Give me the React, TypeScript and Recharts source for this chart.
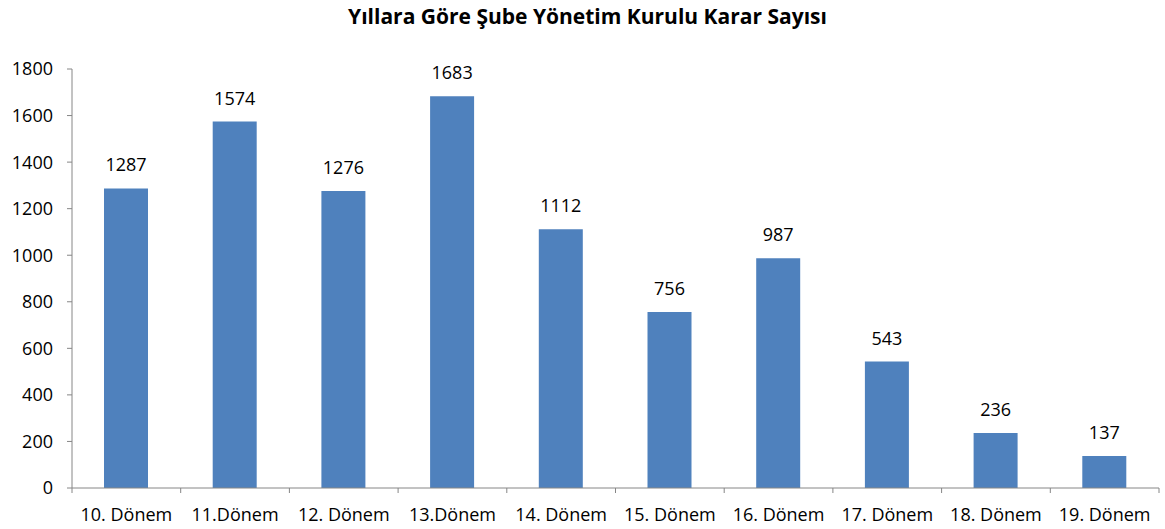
import React from 'react';
import { BarChart, Bar, XAxis, YAxis, LabelList } from 'recharts';

const periods = ['10. Dönem', '11.Dönem', '12. Dönem', '13.Dönem', '14. Dönem', '15. Dönem', '16. Dönem', '17. Dönem', '18. Dönem', '19. Dönem'];
const decisions = [1287, 1574, 1276, 1683, 1112, 756, 987, 543, 236, 137];
const yTicks = [0, 200, 400, 600, 800, 1000, 1200, 1400, 1600, 1800];

const W = 1165;
const H = 529;
const margin = { top: 69, right: 6, left: 0, bottom: 0 };
const yAxisWidth = 72;
const xAxisHeight = 41;
const font = '"Open Sans", sans-serif';
const axisColor = '#868686';

const data = periods.map((p, i) => ({ period: p, value: decisions[i] }));
const band = (W - margin.right - yAxisWidth) / periods.length;

const XTick = (props: any) => {
  const { x, y, payload, index } = props;
  const left = x - band / 2;
  return (
    <g>
      <line x1={left} y1={y} x2={left} y2={y + 5} stroke={axisColor} />
      {index === periods.length - 1 && (
        <line x1={x + band / 2} y1={y} x2={x + band / 2} y2={y + 5} stroke={axisColor} />
      )}
      <text x={x} y={y + 33} textAnchor="middle" fontSize={18} fontFamily={font} fill="#000">
        {payload.value}
      </text>
    </g>
  );
};

export default function App() {
  return (
    <div style={{ position: 'absolute', left: 0, top: 0, width: W, height: H, background: '#fff' }}>
      <div
        style={{
          position: 'absolute',
          left: 0,
          width: 1175,
          top: 2,
          textAlign: 'center',
          fontFamily: font,
          fontWeight: 700,
          fontSize: 21,
          color: '#000',
        }}
      >
        Yıllara Göre Şube Yönetim Kurulu Karar Sayısı
      </div>
      <BarChart width={W} height={H} data={data} margin={margin}>
        <XAxis
          dataKey="period"
          height={xAxisHeight}
          stroke={axisColor}
          tickLine={false}
          tickSize={0}
          tickMargin={0}
          interval={0}
          tick={<XTick />}
        />
        <YAxis
          width={yAxisWidth}
          domain={[0, 1800]}
          ticks={yTicks}
          stroke={axisColor}
          tickSize={5}
          tickMargin={14}
          tick={{ fill: '#000', fontSize: 18, fontFamily: font }}
        />
        <Bar dataKey="value" fill="#4F81BD" barSize={44} isAnimationActive={false}>
          <LabelList dataKey="value" position="top" offset={17} fill="#000" fontSize={18} fontFamily={font} />
        </Bar>
      </BarChart>
    </div>
  );
}
